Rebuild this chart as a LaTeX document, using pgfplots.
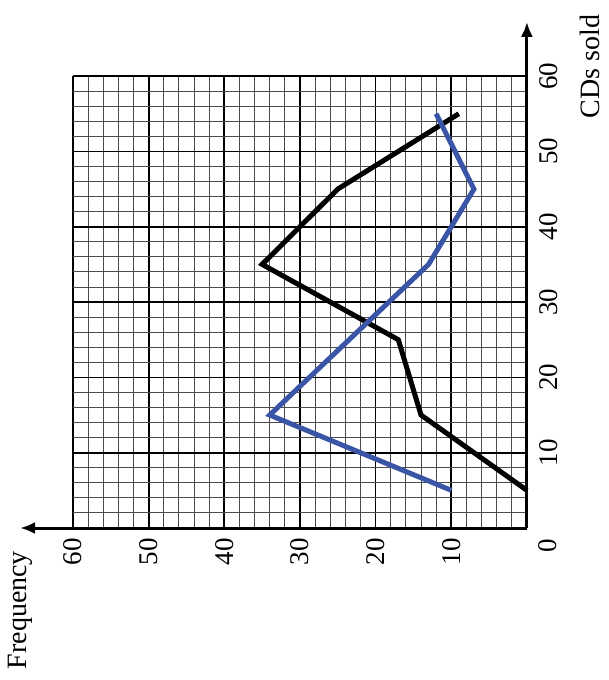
\documentclass[border=0pt]{standalone}
\usepackage{pgfplots}
\pgfplotsset{compat=1.18}
\usetikzlibrary{arrows.meta}
\usepackage{fontspec}
\setmainfont{Liberation Serif}
\definecolor{cdblue}{RGB}{59,85,166}

\begin{document}
\begin{tikzpicture}
\begin{axis}[
    scale only axis, width=454pt, height=452pt,
    x dir=reverse,
    xmin=0, xmax=60, ymin=0, ymax=60,
    xtick={0,10,...,60}, ytick={0,10,...,60},
    xticklabels={,10,20,30,40,50,60},
    yticklabels={,10,20,30,40,50,60},
    yticklabel pos=right,
    minor tick num=4,
    grid=both,
    major grid style={black, line width=1.7pt},
    minor grid style={black!70, line width=0.9pt},
    tick style={draw=none},
    axis line style={draw=none},
    clip=false,
    /pgf/number format/assume math mode=true,
    tick label style={font=\fontsize{27}{30}\selectfont, inner sep=0pt},
    xticklabel style={rotate=90, anchor=east},
    yticklabel style={rotate=90, anchor=north},
    xticklabel shift={10pt},
    yticklabel shift={12pt},
]
% invisible frame that gives the picture its proportions
\path (axis cs:69.65,70.1) rectangle (axis cs:-10.84,-20.18);
\draw[line width=3pt, -{Latex[length=15pt, width=12pt]}] (axis cs:0,0) -- (axis cs:67,0);
\draw[line width=3pt, -{Latex[length=15pt, width=12pt]}] (axis cs:0,0) -- (axis cs:0,67.2);
\addplot[black, line width=5pt, no marks] coordinates {
    (0,5) (14,15) (17,25) (35,35) (25,45) (9,55)};
\addplot[cdblue, line width=5pt, no marks] coordinates {
    (10,5) (34,15) (13,35) (7,45) (12,55)};
\node[rotate=90, anchor=center, font=\fontsize{27}{30}\selectfont] at (axis cs:-2.8,-2.3) {0};
\node[rotate=90, anchor=base, font=\fontsize{28}{30}\selectfont] at (axis cs:66.1,-10.9) {Frequency};
\node[rotate=90, anchor=base, font=\fontsize{28}{30}\selectfont] at (axis cs:-9.65,61.3) {CDs sold};
\end{axis}
\end{tikzpicture}
\end{document}
